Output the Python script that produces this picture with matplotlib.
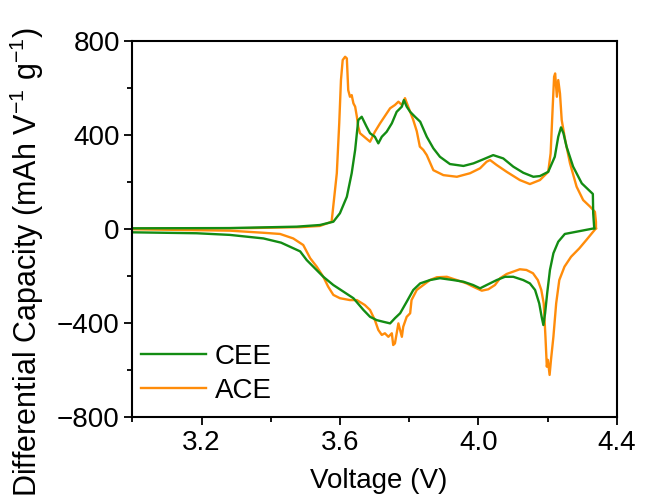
import matplotlib.pyplot as plt
from matplotlib.ticker import MultipleLocator

plt.rcParams['font.family'] = ['Liberation Sans', 'DejaVu Sans']
plt.rcParams['mathtext.fontset'] = 'custom'
plt.rcParams['mathtext.rm'] = 'Liberation Sans'
plt.rcParams['mathtext.default'] = 'regular'

# ACE, charge branch (V, dQ/dV)
ace_chg_v = [3.000, 3.340, 3.485, 3.542, 3.576, 3.591, 3.598, 3.603, 3.608, 3.615,
             3.620, 3.624, 3.629, 3.634, 3.639, 3.644, 3.649, 3.653, 3.658, 3.687,
             3.701, 3.716, 3.735, 3.745, 3.759, 3.769, 3.779, 3.788, 3.812, 3.822,
             3.831, 3.841, 3.851, 3.870, 3.899, 3.938, 3.976, 4.005, 4.024, 4.034,
             4.053, 4.082, 4.120, 4.149, 4.178, 4.202, 4.209, 4.215, 4.219, 4.222,
             4.227, 4.231, 4.236, 4.241, 4.251, 4.265, 4.284, 4.303, 4.323, 4.337,
             4.340, 4.340]
ace_chg_q = [2, 4, 8, 13, 31, 237, 449, 633, 718, 732,
             725, 590, 562, 569, 534, 520, 477, 434, 407, 371,
             413, 449, 491, 513, 527, 541, 527, 556, 463, 416,
             350, 336, 314, 250, 229, 222, 237, 258, 286, 293,
             272, 243, 208, 191, 208, 243, 322, 520, 647, 661,
             562, 633, 576, 463, 378, 279, 180, 123, 95, 73,
             30, 3]

# ACE, discharge branch
ace_dis_v = [4.340, 4.312, 4.292, 4.268, 4.249, 4.234, 4.225, 4.217, 4.210, 4.206,
             4.201, 4.198, 4.194, 4.189, 4.182, 4.172, 4.158, 4.139, 4.120, 4.101,
             4.082, 4.063, 4.048, 4.029, 4.010, 3.985, 3.966, 3.938, 3.909, 3.880,
             3.860, 3.841, 3.822, 3.807, 3.803, 3.793, 3.783, 3.779, 3.769, 3.759,
             3.754, 3.750, 3.740, 3.730, 3.721, 3.711, 3.701, 3.687, 3.672, 3.649,
             3.629, 3.600, 3.581, 3.566, 3.552, 3.533, 3.514, 3.494, 3.465, 3.427,
             3.379, 3.282, 3.000]
ace_dis_q = [3, -47, -82, -118, -160, -217, -316, -458, -556, -620,
             -556, -585, -458, -316, -259, -217, -188, -174, -171, -181,
             -191, -209, -238, -256, -262, -245, -231, -217, -203, -205,
             -217, -238, -259, -302, -358, -373, -415, -458, -401, -486,
             -493, -443, -458, -443, -450, -429, -387, -344, -323, -302,
             -302, -294, -280, -245, -203, -160, -124, -68, -40, -21,
             -16, -7, -1]

# CEE, charge branch
cee_chg_v = [3.000, 3.282, 3.475, 3.542, 3.581, 3.600, 3.620, 3.634, 3.644, 3.649,
             3.653, 3.663, 3.670, 3.677, 3.687, 3.701, 3.711, 3.721, 3.735, 3.750,
             3.764, 3.779, 3.785, 3.793, 3.803, 3.817, 3.832, 3.851, 3.870, 3.889,
             3.918, 3.957, 3.986, 4.014, 4.043, 4.072, 4.101, 4.130, 4.159, 4.178,
             4.202, 4.221, 4.231, 4.239, 4.246, 4.255, 4.274, 4.299, 4.331, 4.332,
             4.335]
cee_chg_q = [3, 4, 10, 17, 31, 67, 137, 237, 336, 407,
             463, 477, 456, 435, 407, 392, 364, 392, 413, 449,
             498, 520, 548, 520, 498, 477, 456, 392, 343, 307,
             276, 268, 279, 296, 314, 300, 265, 239, 222, 225,
             243, 307, 392, 432, 407, 350, 265, 194, 149, 67,
             3]

# CEE, discharge branch
cee_dis_v = [4.335, 4.250, 4.231, 4.217, 4.207, 4.199, 4.193, 4.188, 4.183, 4.176,
             4.164, 4.149, 4.130, 4.101, 4.077, 4.053, 4.024, 4.005, 3.985, 3.957,
             3.928, 3.889, 3.860, 3.832, 3.812, 3.793, 3.774, 3.759, 3.745, 3.725,
             3.706, 3.687, 3.668, 3.639, 3.610, 3.581, 3.552, 3.523, 3.504, 3.485,
             3.430, 3.379, 3.282, 3.186, 3.000]
cee_dis_q = [3, -21, -54, -103, -174, -273, -358, -408, -373, -316,
             -259, -231, -217, -203, -203, -217, -238, -252, -238, -224,
             -217, -209, -217, -231, -259, -309, -358, -379, -401, -394,
             -387, -373, -344, -294, -266, -238, -203, -160, -132, -95,
             -58, -40, -25, -18, -14]

green = '#138c13'
orange = '#ff8c0a'

fig = plt.figure(figsize=(6.57, 5.03), dpi=100)
ax = fig.add_axes([0.2014, 0.1704, 0.7373, 0.7486])

ax.plot(ace_chg_v, ace_chg_q, color=orange, lw=1.7)
la, = ax.plot(ace_dis_v, ace_dis_q, color=orange, lw=1.7, label='ACE')
ax.plot(cee_chg_v, cee_chg_q, color=green, lw=1.7)
lc, = ax.plot(cee_dis_v, cee_dis_q, color=green, lw=1.7, label='CEE')

ax.set_xlim(3.0, 4.4)
ax.set_ylim(-800, 800)
ax.xaxis.set_minor_locator(MultipleLocator(0.2))
ax.set_xticks([3.2, 3.6, 4.0, 4.4])
ax.set_xticklabels(['3.2', '3.6', '4.0', '4.4'])
ax.yaxis.set_minor_locator(MultipleLocator(200))
ax.set_yticks([-800, -400, 0, 400, 800])
ax.set_yticklabels(['\u2212800', '\u2212400', '0', '400', '800'])

ax.tick_params(which='both', direction='out', width=1.3, labelsize=20, pad=3)
ax.tick_params(which='major', length=6)
ax.tick_params(which='minor', length=3.5)
for s in ax.spines.values():
    s.set_linewidth(1.5)

ax.set_xlabel('Voltage (V)', fontsize=20)
ax.xaxis.set_label_coords(0.508, -0.136)
ax.set_ylabel('Differential Capacity (mAh V$^{-1}$ g$^{-1}$)', fontsize=22)
ax.yaxis.set_label_coords(-0.178, 0.412)

ax.legend(handles=[lc, la], loc='lower left', frameon=False, fontsize=20,
          handlelength=2.35, labelspacing=0.3, handletextpad=0.3,
          borderaxespad=0.0, borderpad=0.0, bbox_to_anchor=(0.018, 0.035))

fig.savefig('out.png', dpi=100)
